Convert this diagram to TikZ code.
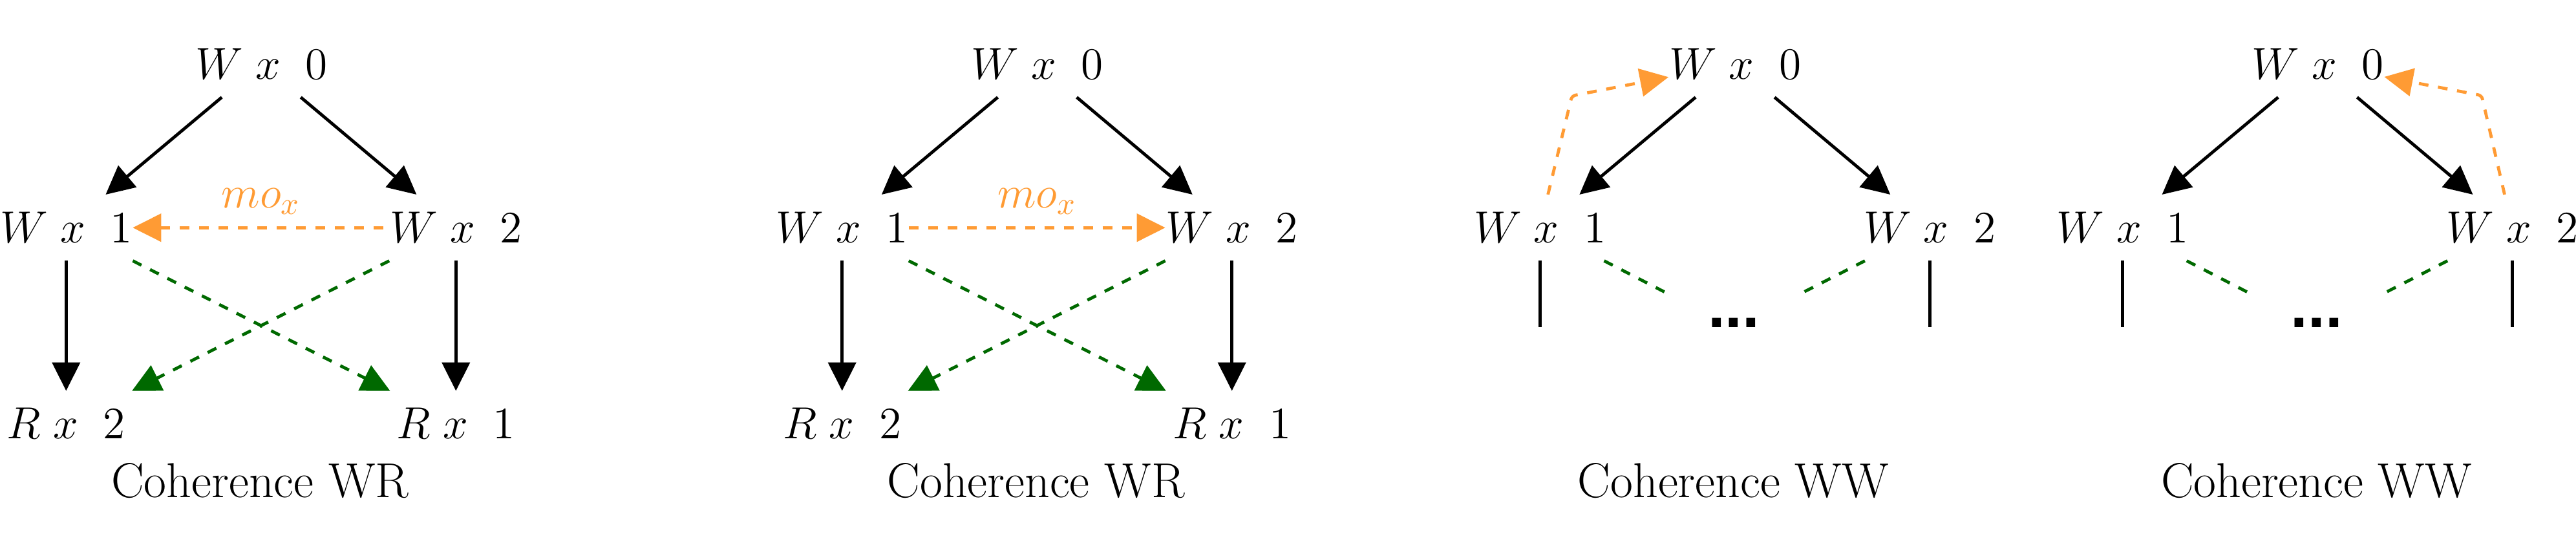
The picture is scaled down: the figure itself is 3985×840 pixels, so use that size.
\RequirePackage{fix-cm}
\documentclass[tikz,border=0pt]{standalone}
\usepackage{fontspec}
\newfontfamily\dotfont{Liberation Sans}
\usetikzlibrary{arrows.meta}
\definecolor{mocol}{RGB}{255,155,52}
\definecolor{rfcol}{RGB}{0,105,0}
\tikzset{
  lab/.style={inner sep=0pt, text height=16.28pt, text depth=6.02pt,
    minimum width=44.74pt, font=\fontsize{15.4}{19}\selectfont, anchor=base},
  captext/.style={inner sep=0pt, font=\fontsize{16.8}{21}\selectfont, anchor=base},
  dotsnode/.style={inner sep=0pt, text height=0pt, text depth=0pt,
    minimum width=43.4pt, minimum height=26pt, font=\dotfont\bfseries\fontsize{21.3}{24}\selectfont},
  molab/.style={inner sep=4pt, font=\fontsize{15.4}{19}\selectfont, text=mocol},
  lw/.style={line width=1.06pt},
  arr/.style={lw, -{Triangle[length=9.75pt, width=9.52pt]}},
  rarr/.style={lw, {Triangle[length=9.75pt, width=9.52pt]}-},
  dsh/.style={dash pattern=on 3.32pt off 3.32pt},
  oarr/.style={arr, dsh, draw=mocol},
  orarr/.style={rarr, dsh, draw=mocol},
  garr/.style={arr, dsh, draw=rfcol},
  gline/.style={lw, dsh, draw=rfcol},
  vline/.style={lw},
}
\begin{document}
\begin{tikzpicture}[x=0.2215pt, y=-0.2215pt]
\useasboundingbox (0,0) rectangle (3985,840);
% ---------- panel 1 ----------
\node[lab] (p1w0) at (404.3,122.4) {$W\;x\;\;0$};
\node[lab] (p1w1) at (102.3,375.4) {$W\;x\;\;1$};
\node[lab] (p1w2) at (705.3,375.4) {$W\;x\;\;2$};
\node[lab] (p1r2) at (102.3,679) {$R\;x\;\;2$};
\node[lab] (p1r1) at (705.3,679) {$R\;x\;\;1$};
\node[captext] (p1c) at (402.3,770) {Coherence WR};
\draw[arr] (p1w0) -- (p1w1);
\draw[arr] (p1w0) -- (p1w2);
\draw[arr] (p1w1) -- (p1r2);
\draw[arr] (p1w2) -- (p1r1);
\draw[orarr] (p1w1.east) -- (p1w2.west) node[molab, midway, above] {$mo_x$};
\draw[garr] (p1w1.south east) -- (p1r1.north west);
\draw[garr] (p1w2.south west) -- (p1r2.north east);
% ---------- panel 2 ----------
\node[lab] (p2w0) at (1604.7,122.4) {$W\;x\;\;0$};
\node[lab] (p2w1) at (1302.7,375.4) {$W\;x\;\;1$};
\node[lab] (p2w2) at (1905.7,375.4) {$W\;x\;\;2$};
\node[lab] (p2r2) at (1302.7,679) {$R\;x\;\;2$};
\node[lab] (p2r1) at (1905.7,679) {$R\;x\;\;1$};
\node[captext] (p2c) at (1602.7,770) {Coherence WR};
\draw[arr] (p2w0) -- (p2w1);
\draw[arr] (p2w0) -- (p2w2);
\draw[arr] (p2w1) -- (p2r2);
\draw[arr] (p2w2) -- (p2r1);
\draw[oarr] (p2w1.east) -- (p2w2.west) node[molab, midway, above] {$mo_x$};
\draw[garr] (p2w1.south east) -- (p2r1.north west);
\draw[garr] (p2w2.south west) -- (p2r2.north east);
% ---------- panel 3 ----------
\node[lab] (p3w0) at (2684.2,122.4) {$W\;x\;\;0$};
\node[lab] (p3w1) at (2382.2,375.4) {$W\;x\;\;1$};
\node[lab] (p3w2) at (2985.2,375.4) {$W\;x\;\;2$};
\node[dotsnode] (p3d) at (2682.2,507) {...};
\node[captext] (p3c) at (2681.2,770) {Coherence WW};
\coordinate (p3k) at (2431.7,148.3);
\coordinate (p3e1) at (2382.2,506);
\coordinate (p3e2) at (2985.2,506);
\draw[arr] (p3w0) -- (p3w1);
\draw[arr] (p3w0) -- (p3w2);
\draw[vline] (p3w1.south) -- (p3e1);
\draw[vline] (p3w2.south) -- (p3e2);
\draw[oarr, rounded corners=1.2pt] (p3w1) -- (p3k) -- (p3w0);
\draw[gline] (p3w1) -- (p3d);
\draw[gline] (p3w2) -- (p3d);
% ---------- panel 4 ----------
\node[lab] (p4w0) at (3585.4,122.4) {$W\;x\;\;0$};
\node[lab] (p4w1) at (3283.4,375.4) {$W\;x\;\;1$};
\node[lab] (p4w2) at (3886.4,375.4) {$W\;x\;\;2$};
\node[dotsnode] (p4d) at (3583.6,507) {...};
\node[captext] (p4c) at (3583.4,770) {Coherence WW};
\coordinate (p4k) at (3839,147.7);
\coordinate (p4e1) at (3283.4,506);
\coordinate (p4e2) at (3886.4,506);
\draw[arr] (p4w0) -- (p4w1);
\draw[arr] (p4w0) -- (p4w2);
\draw[vline] (p4w1.south) -- (p4e1);
\draw[vline] (p4w2.south) -- (p4e2);
\draw[oarr, rounded corners=1.2pt] (p4w2) -- (p4k) -- (p4w0);
\draw[gline] (p4w1) -- (p4d);
\draw[gline] (p4w2) -- (p4d);
\end{tikzpicture}
\end{document}
